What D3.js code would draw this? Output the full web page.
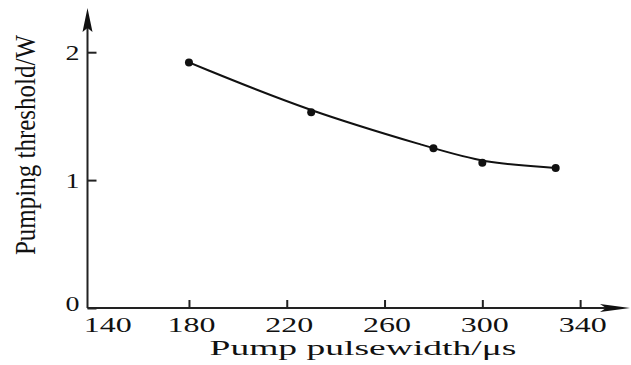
<!DOCTYPE html>
<html>
<head>
<meta charset="utf-8">
<script src="https://cdn.jsdelivr.net/npm/d3@7"></script>
<style>
  body { margin: 0; background: #fff; }
  text { font-family: "Liberation Serif", serif; fill: #111; }
</style>
</head>
<body>
<script>
// data
var pulseWidth = [180, 230, 280, 300, 330];
var threshold = [1.92, 1.53, 1.25, 1.135, 1.095];
var xTicks = [140, 180, 220, 260, 300, 340];
var yTicks = [0, 1, 2];

var w = 631;
var h = 365;

var svg = d3.select("body").append("svg").attr("width", w).attr("height", h);

var x = d3.scaleLinear().domain([138.5, 360.4]).range([87.5, 630]);
var y = d3.scaleLinear().domain([0, 2.33]).range([308, 10]);

var pts = pulseWidth.map(function(d, i){ return [d, threshold[i]]; });

// x axis
var gx = svg.append("g").attr("transform", "translate(0," + y(0) + ")")
  .call(d3.axisBottom(x).tickValues(xTicks).tickSizeInner(-8).tickSizeOuter(0).tickPadding(8));
gx.select(".domain").attr("stroke", "#222").attr("stroke-width", 2).attr("d", "M" + x.range()[0] + ",0H" + (x.range()[1] - 20));
gx.selectAll(".tick line").attr("stroke", "#222").attr("stroke-width", 2)
  .attr("opacity", function(d){ return d == 140 ? 0 : 1; });
gx.selectAll(".tick text").attr("font-size", 22).attr("fill", "#111")
  .attr("textLength", 48).attr("lengthAdjust", "spacingAndGlyphs")
  .attr("dx", function(d){ return d == 140 ? 16 : 2; });

// y axis
var gy = svg.append("g").attr("transform", "translate(" + x.range()[0] + ",0)")
  .call(d3.axisLeft(y).tickValues(yTicks).tickFormat(d3.format("d")).tickSizeInner(-9).tickSizeOuter(0).tickPadding(8));
gy.select(".domain").attr("stroke", "#222").attr("stroke-width", 2).attr("d", "M0," + y.range()[0] + "V" + (y.range()[1] + 15));
gy.selectAll(".tick line").attr("stroke", "#222").attr("stroke-width", 2);
gy.selectAll(".tick text").attr("font-size", 22).attr("fill", "#111")
  .attr("textLength", 14).attr("lengthAdjust", "spacingAndGlyphs")
  .attr("dy", function(d){ return d == 0 ? "0.12em" : "0.32em"; });

// arrow heads
var ax = x.range()[0], ay = y.range()[1];
svg.append("path").attr("fill", "#111")
  .attr("d", "M" + ax + "," + (ay - 2) + "L" + (ax + 5) + "," + (ay + 22) + "L" + ax + "," + (ay + 18) + "L" + (ax - 5) + "," + (ay + 22) + "Z");
var bx = x.range()[1], by = y(0);
svg.append("path").attr("fill", "#111")
  .attr("d", "M" + bx + "," + by + "L" + (bx - 30) + "," + (by - 4) + "L" + (bx - 24) + "," + by + "L" + (bx - 30) + "," + (by + 4) + "Z");

// curve
var line = d3.line().x(function(d){ return x(d[0]); }).y(function(d){ return y(d[1]); })
  .curve(d3.curveBasis);
svg.append("path").datum(pts).attr("d", line)
  .attr("fill", "none").attr("stroke", "#111").attr("stroke-width", 2);

svg.selectAll("circle").data(pts).enter().append("circle")
  .attr("cx", function(d){ return x(d[0]); })
  .attr("cy", function(d){ return y(d[1]); })
  .attr("r", 4).attr("fill", "#111");

// titles
svg.append("text").attr("transform", "translate(35,145) rotate(-90) scale(1,1.2)")
  .attr("text-anchor", "middle").attr("font-size", 25)
  .text("Pumping threshold/W");

svg.append("text").attr("x", 363).attr("y", 355)
  .attr("text-anchor", "middle").attr("font-size", 22)
  .attr("textLength", 307).attr("lengthAdjust", "spacingAndGlyphs")
  .text("Pump pulsewidth/μs");
</script>
</body>
</html>
